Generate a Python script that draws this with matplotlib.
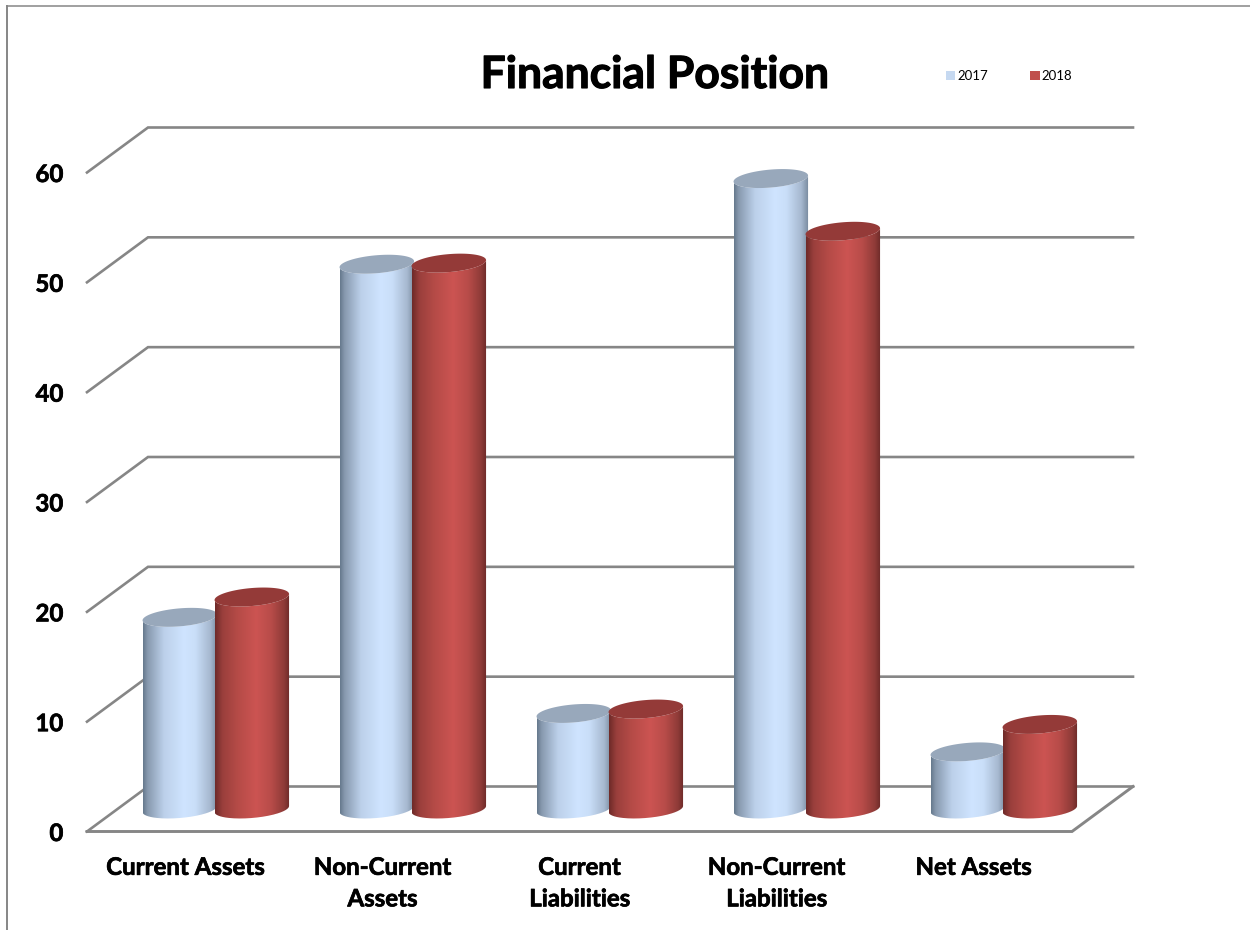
import numpy as np
import matplotlib
matplotlib.use("Agg")
import matplotlib.pyplot as plt
from matplotlib.colors import LinearSegmentedColormap
from matplotlib.patches import Patch, PathPatch
from matplotlib.path import Path
from matplotlib.lines import Line2D
import matplotlib.patheffects as pe

plt.rcParams['font.family'] = ['Lato', 'DejaVu Sans']

categories = ["Current Assets", "Non-Current\nAssets", "Current\nLiabilities",
              "Non-Current\nLiabilities", "Net Assets"]
series_names = ["2017", "2018"]
values_2017 = [17.45, 49.6, 8.7, 57.4, 5.2]
values_2018 = [19.3, 49.7, 9.1, 52.6, 7.7]
y_ticks = [0, 10, 20, 30, 40, 50, 60]

W, H = 1250, 930
PX_X = 197.0     # pixels per category
PX_Y = 659 / 60  # pixels per unit
DX = 61 / PX_X   # depth offset
DY = 45 / PX_Y
BAR_W = 74.5 / PX_X
BAR_STEP = 72.0 / PX_X
ELL_B = 9.0 / PX_Y
ELL_S = 3.0 / PX_Y
GRID = "#868686"

blue_stops = [(0, "#66798d"), (.06, "#8799ae"), (.28, "#bcd0ea"), (.55, "#cfe4ff"),
              (.7, "#c9def8"), (.9, "#a6b8cf"), (1, "#76889c")]
red_stops = [(0, "#6e2a28"), (.1, "#9a3f3c"), (.3, "#b54b47"), (.55, "#cc5452"),
             (.75, "#b84c49"), (.92, "#8f3b38"), (1, "#6b2a28")]
cmaps = [LinearSegmentedColormap.from_list("b", blue_stops),
         LinearSegmentedColormap.from_list("r", red_stops)]
top_colors = ["#98a8bb", "#943a38"]
legend_colors = ["#c6d9f1", "#c0504d"]

fig = plt.figure(figsize=(W / 100, H / 100), dpi=100, facecolor="white")
ax = fig.add_axes([87 / W, (H - 831.5) / H, 985 / W, 659 / H])
ax.patch.set_alpha(0)
for s in ax.spines.values():
    s.set_visible(False)

# frame of the source picture
fig.add_artist(Line2D([6.5 / W, 6.5 / W], [0, 1 - 6.5 / H], color=GRID, lw=1.4))
fig.add_artist(Line2D([6.5 / W, 1], [1 - 6.5 / H, 1 - 6.5 / H], color=GRID, lw=1.1))

# back wall grid and side wall
n = len(categories)
for v in y_ticks:
    ax.plot([0, DX, n + DX], [v, v + DY, v + DY], color=GRID, lw=1.9,
            clip_on=False, solid_joinstyle="miter", zorder=1)
ax.plot([0, n, n + DX], [0, 0, DY], color=GRID, lw=2.1, clip_on=False,
        solid_joinstyle="miter", zorder=1)


def cylinder(cx, value, cmap, top, z):
    a = BAR_W / 2
    base = DY / 2
    t = np.linspace(np.pi, 2 * np.pi, 80)
    xs = cx + a * np.cos(t)
    lower = base + ELL_S * np.cos(t) + ELL_B * np.sin(t)
    upper = base + value + ELL_S * np.cos(t) + ELL_B * np.sin(t)
    verts = np.r_[np.c_[xs, lower], np.c_[xs[::-1], upper[::-1]], [[xs[0], lower[0]]]]
    clip = PathPatch(Path(verts, closed=False), transform=ax.transData,
                     fc="none", ec="none", clip_on=False)
    ax.add_patch(clip)
    im = ax.imshow(np.linspace(0, 1, 256)[None, :], cmap=cmap, aspect="auto",
                   extent=(cx - a, cx + a, base - 2, base + value + 2),
                   zorder=z, interpolation="bilinear", clip_on=True)
    im.set_clip_box(fig.bbox)
    im.set_clip_path(clip)
    tt = np.linspace(0, 2 * np.pi, 120)
    ax.fill(cx + a * np.cos(tt),
            base + value + ELL_S * np.cos(tt) + ELL_B * np.sin(tt),
            color=top, zorder=z + 0.1, lw=0, clip_on=False)


for i in range(n):
    center = i + 0.5 + DX / 2 - 0.001
    cylinder(center - BAR_STEP / 2, values_2017[i], cmaps[0], top_colors[0], 3 + i * 2)
    cylinder(center + BAR_STEP / 2, values_2018[i], cmaps[1], top_colors[1], 4 + i * 2)

ax.set_xlim(0, n)
ax.set_ylim(0, 60)
ax.set_xticks(np.arange(n) + 0.5, categories)
ax.set_yticks(y_ticks, [str(v) for v in y_ticks])
ax.tick_params(axis="both", length=0)
ax.tick_params(axis="x", pad=17.5)
ax.tick_params(axis="y", pad=17)
thick = [pe.withStroke(linewidth=0.5, foreground="black")]
for lab in ax.get_xticklabels():
    lab.set_fontsize(17.3)
    lab.set_fontweight("bold")
    lab.set_linespacing(1.45)
    lab.set_path_effects(thick)
for lab in ax.get_yticklabels():
    lab.set_fontsize(17.3)
    lab.set_fontweight("bold")
    lab.set_path_effects(thick)

fig.text(655 / W, 1 - 75 / H, "Financial Position", ha="center", va="center",
         fontsize=32, fontweight="bold", color="black",
         path_effects=[pe.withStroke(linewidth=0.8, foreground="black")])

handles = [Patch(fc=c, ec="none") for c in legend_colors]
fig.legend(handles, series_names, ncol=2, frameon=False, fontsize=9.5,
           loc="center left", bbox_to_anchor=(935 / W, 1 - 76 / H),
           handlelength=0.75, handleheight=0.75, handletextpad=0.15,
           columnspacing=3.15, borderpad=0.3)

fig.savefig("out.png", dpi=100)
